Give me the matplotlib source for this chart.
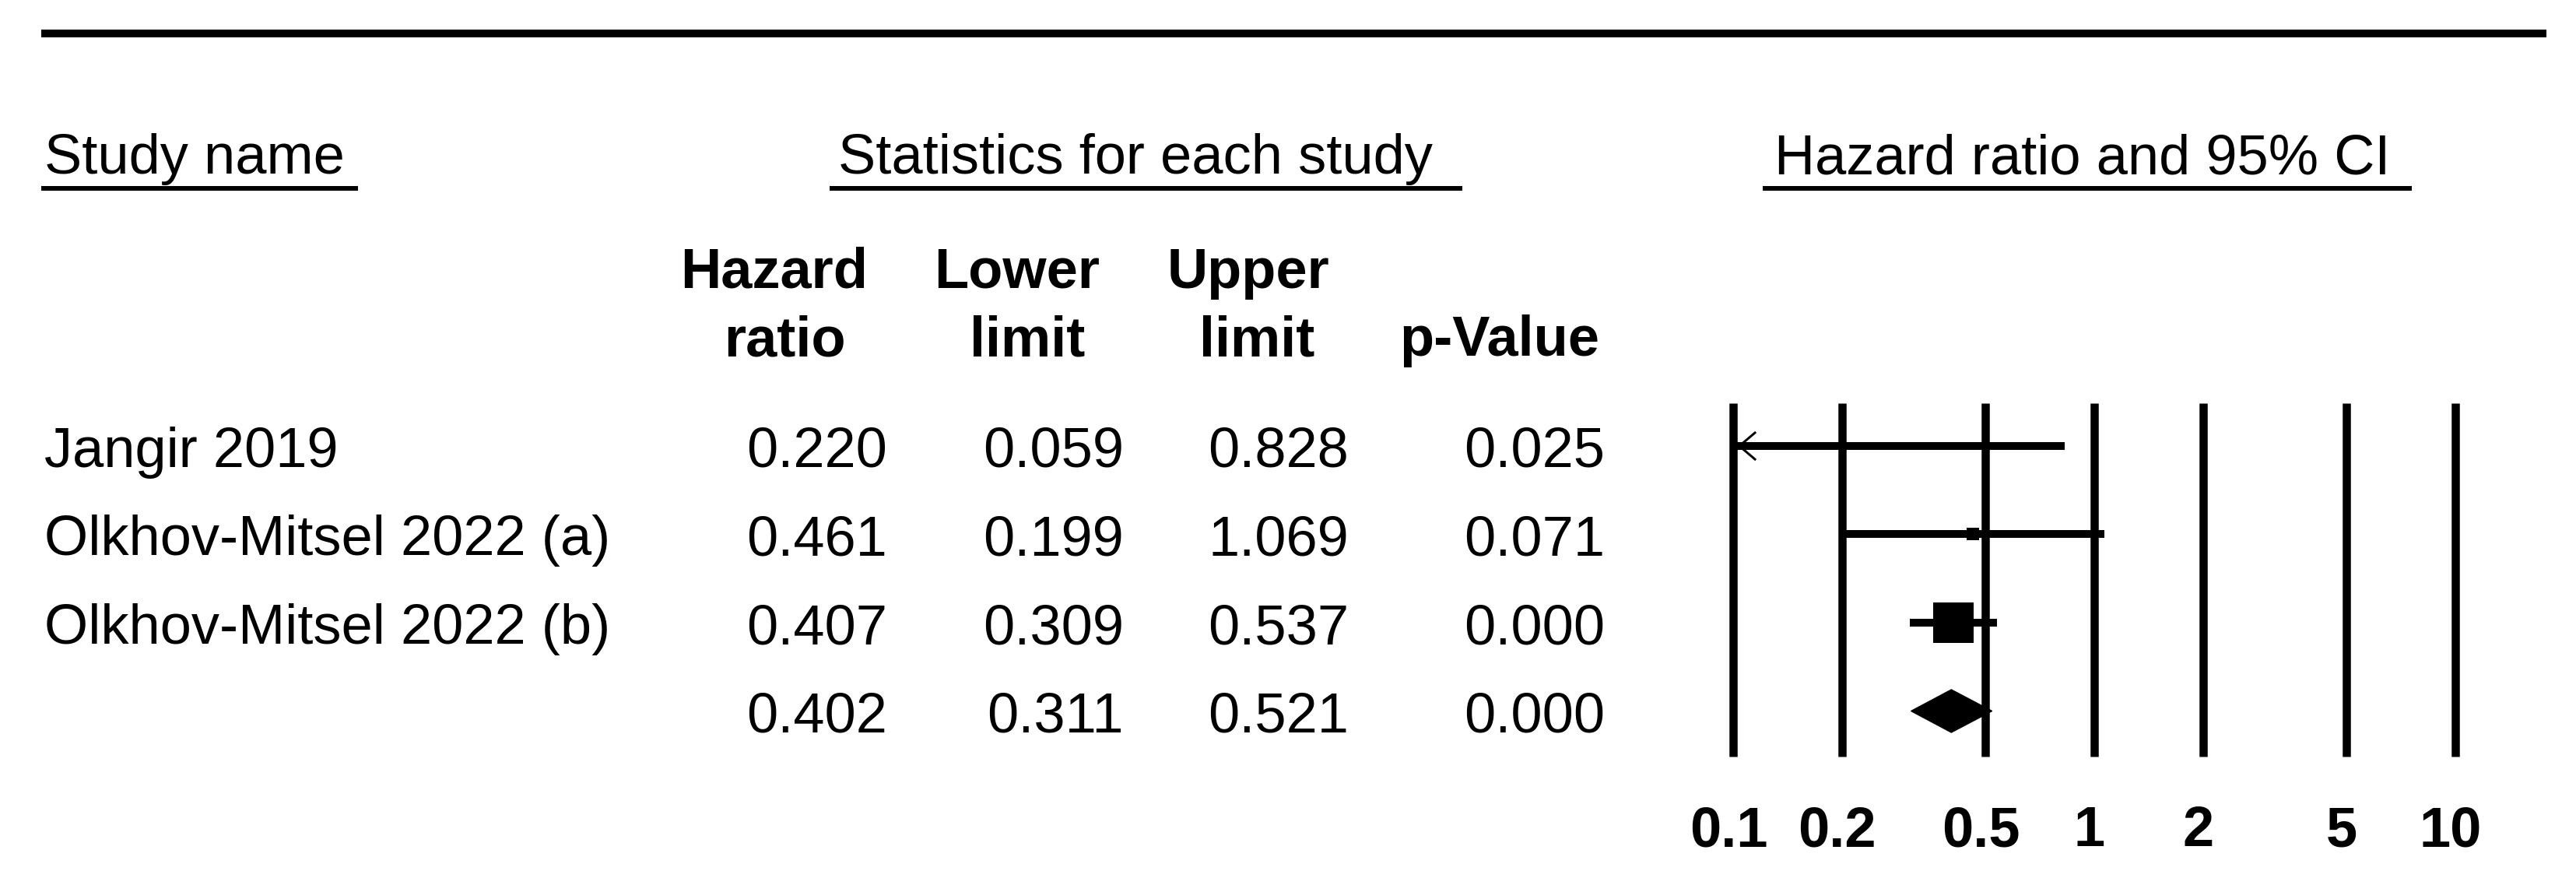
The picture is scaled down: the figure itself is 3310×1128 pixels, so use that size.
import numpy as np
import matplotlib
matplotlib.use("Agg")
import matplotlib.pyplot as plt
from matplotlib.lines import Line2D
from matplotlib.patches import Polygon

# ---------------- data ----------------
studies = ["Jangir 2019", "Olkhov-Mitsel 2022 (a)", "Olkhov-Mitsel 2022 (b)", ""]
hazard_ratio = [0.220, 0.461, 0.407, 0.402]
lower_limit = [0.059, 0.199, 0.309, 0.311]
upper_limit = [0.828, 1.069, 0.537, 0.521]
p_value = [0.025, 0.071, 0.000, 0.000]
is_summary = [False, False, False, True]
tick_values = [0.1, 0.2, 0.5, 1, 2, 5, 10]
tick_labels = ["0.1", "0.2", "0.5", "1", "2", "5", "10"]
col_headers = [("Hazard", "ratio"), ("Lower", "limit"), ("Upper", "limit"), ("", "p-Value")]
section_headers = ["Study name", "Statistics for each study", "Hazard ratio and 95% CI"]

# ---------------- style / layout ----------------
W, H, DPI = 3310, 1128, 100
FONT = ["Liberation Sans", "DejaVu Sans"]
plt.rcParams["font.family"] = FONT
FS = 52
marker_px = [9, 16, 52]          # square sizes of the study markers (px)

fig = plt.figure(figsize=(W / DPI, H / DPI), dpi=DPI, facecolor="white")
bg = fig.add_axes([0, 0, 1, 1])
bg.set_xlim(0, W)
bg.set_ylim(H, 0)
bg.axis("off")

px2pt = 72.0 / DPI

# top rule
bg.add_line(Line2D([53, 3272], [43, 43], color="black", lw=10 * px2pt, solid_capstyle="butt"))

# section headers with underlines
sec_x = [57, 1077, 2280]
ul_spans = [(53, 460), (1066, 1879), (2265, 3099)]
for txt, x, (a, b) in zip(section_headers, sec_x, ul_spans):
    bg.text(x, 223, txt, fontsize=FS, ha="left", va="baseline", color="black")
    bg.add_line(Line2D([a, b], [242, 242], color="black", lw=6 * px2pt, solid_capstyle="butt"))

# column headers (bold, two lines)
hdr_centers = [(995, 1008), (1307, 1320), (1604, 1615), (1927, 1927)]
for (l1, l2), (c1, c2) in zip(col_headers, hdr_centers):
    if l1:
        bg.text(c1, 370, l1, fontsize=FS, fontweight="bold", ha="center", va="baseline")
    bg.text(c2, 457, l2, fontsize=FS, fontweight="bold", ha="center", va="baseline")

# table rows
row_y0, row_dy = 573, 113.5
num_right = [1140, 1444, 1733, 2062]
for i, name in enumerate(studies):
    yb = row_y0 + i * row_dy + 27
    if name:
        bg.text(57, yb, name, fontsize=FS, ha="left", va="baseline")
    vals = [hazard_ratio[i], lower_limit[i], upper_limit[i], p_value[i]]
    for v, xr in zip(vals, num_right):
        bg.text(xr, yb, f"{v:.3f}", fontsize=FS, ha="right", va="baseline")

# ---------------- forest axes ----------------
x0_px, x1_px = 2227, 3155
y_top_px, y_bot_px = 518, 972
ax = fig.add_axes([x0_px / W, 1 - y_bot_px / H, (x1_px - x0_px) / W, (y_bot_px - y_top_px) / H])
ax.set_xscale("log")
ax.set_xlim(tick_values[0], tick_values[-1])
top_idx = (y_top_px - row_y0) / row_dy
bot_idx = (y_bot_px - row_y0) / row_dy
ax.set_ylim(bot_idx, top_idx)
ax.axis("off")

ax.vlines(tick_values, bot_idx, top_idx, colors="black", lw=10.5 * px2pt, clip_on=False,
          capstyle="butt")

xmin = tick_values[0]
for i in range(len(studies)):
    hr, lo, hi = hazard_ratio[i], lower_limit[i], upper_limit[i]
    if is_summary[i]:
        h = 27.5 / row_dy
        poly = Polygon([(lo, i), (hr, i - h), (hi, i), (hr, i + h)], closed=True,
                       facecolor="black", edgecolor="black", lw=1)
        ax.add_patch(poly)
        continue
    lo_c = max(lo, xmin)
    ax.plot([lo_c, hi], [i, i], color="black", lw=10 * px2pt, solid_capstyle="butt", clip_on=False)
    if lo < xmin:
        tip = xmin * 10 ** (8 / 464)
        arm = xmin * 10 ** (28 / 464)
        ax.plot([arm, tip, arm], [i - 0.15, i, i + 0.15], color="black", lw=3 * px2pt,
                clip_on=False)
    ax.plot([hr], [i], marker="s", color="black", markersize=marker_px[i] * px2pt,
            markeredgewidth=0, linestyle="none", clip_on=False)

# tick labels (bold)
for v, lab in zip(tick_values, tick_labels):
    xp = x0_px + (np.log10(v) - np.log10(tick_values[0])) / (np.log10(tick_values[-1]) - np.log10(tick_values[0])) * (x1_px - x0_px)
    bg.text(xp - 6, 1087, lab, fontsize=FS, fontweight="bold", ha="center", va="baseline")

fig.savefig("out.png", dpi=DPI, facecolor="white")
